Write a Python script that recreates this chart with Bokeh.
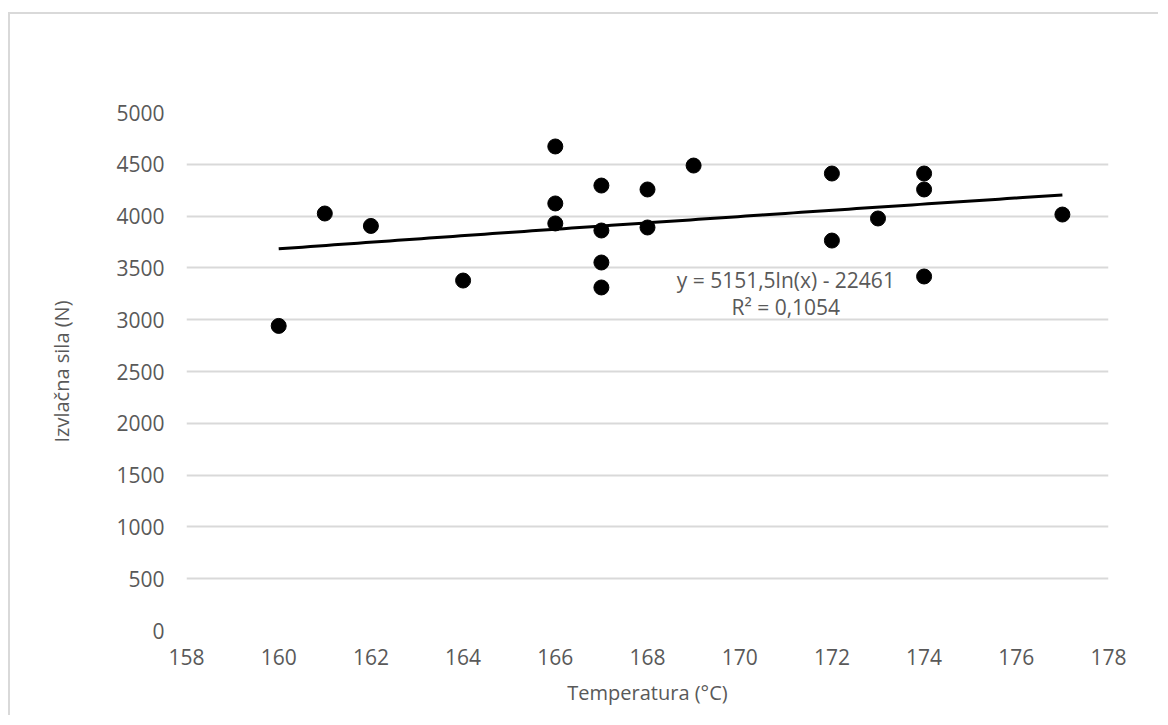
import numpy as np
from bokeh.plotting import figure
from bokeh.models import Label, FixedTicker
from bokeh.embed import file_html
from bokeh.resources import INLINE

# data
temperature = [160, 161, 162, 164, 166, 166, 166, 167, 167, 167, 167,
               168, 168, 169, 172, 172, 173, 174, 174, 174, 177]
force = [2940, 4025, 3905, 3378, 4672, 4122, 3929, 4295, 3861, 3552, 3311,
         4257, 3890, 4488, 4411, 3764, 3977, 4411, 4257, 3417, 4015]
x_ticks = [158, 160, 162, 164, 166, 168, 170, 172, 174, 176, 178]
y_ticks = [0, 500, 1000, 1500, 2000, 2500, 3000, 3500, 4000, 4500, 5000]
trend_a = 5151.5
trend_b = -22461
eq_line1 = "y = 5151,5ln(x) - 22461"
eq_line2 = "R² = 0,1054"

FONT = "Open Sans"
GRAY = "#595959"
GRID = "#d9d9d9"

p = figure(width=1150, height=703, output_backend="svg", toolbar_location=None,
           x_range=(158, 178), y_range=(0, 5000),
           min_border_left=176, min_border_top=98, min_border_bottom=87,
           min_border_right=52,
           styles={"border-left": f"2px solid {GRID}", "border-top": f"2px solid {GRID}",
                   "margin-top": "12px", "margin-left": "8px"})
p.outline_line_color = None
p.background_fill_color = "white"
p.border_fill_color = "white"

p.xaxis.ticker = FixedTicker(ticks=x_ticks)
p.yaxis.ticker = FixedTicker(ticks=y_ticks)
p.xgrid.grid_line_color = None
p.ygrid.grid_line_color = GRID
p.ygrid.grid_line_width = 2

for ax in (p.xaxis[0], p.yaxis[0]):
    ax.axis_line_color = None
    ax.major_tick_line_color = None
    ax.minor_tick_line_color = None
    ax.major_tick_out = 0
    ax.major_tick_in = 0
    ax.major_label_text_font = FONT
    ax.major_label_text_font_size = "21px"
    ax.major_label_text_color = GRAY
    ax.axis_label_text_font = FONT
    ax.axis_label_text_font_size = "20px"
    ax.axis_label_text_color = GRAY
    ax.axis_label_text_font_style = "normal"

p.xaxis.axis_label = "Temperatura (°C)"
p.yaxis.axis_label = "Izvlačna sila (N)"
p.xaxis.major_label_standoff = 18
p.yaxis.major_label_standoff = 22
p.xaxis.axis_label_standoff = 11
p.yaxis.axis_label_standoff = 38

tx = np.linspace(min(temperature), max(temperature), 100)
ty = trend_a * np.log(tx) + trend_b
p.line(tx, ty, line_color="black", line_width=3)

p.scatter(temperature, force, size=15, fill_color="black", line_color="black")

p.add_layout(Label(x=171.0, y=3388, text=eq_line1, text_align="center",
                   text_baseline="middle", text_font=FONT, text_font_size="21px",
                   text_color=GRAY))
p.add_layout(Label(x=171.0, y=3118, text=eq_line2, text_align="center",
                   text_baseline="middle", text_font=FONT, text_font_size="21px",
                   text_color=GRAY))

open("out.html", "w").write(file_html(p, INLINE))
